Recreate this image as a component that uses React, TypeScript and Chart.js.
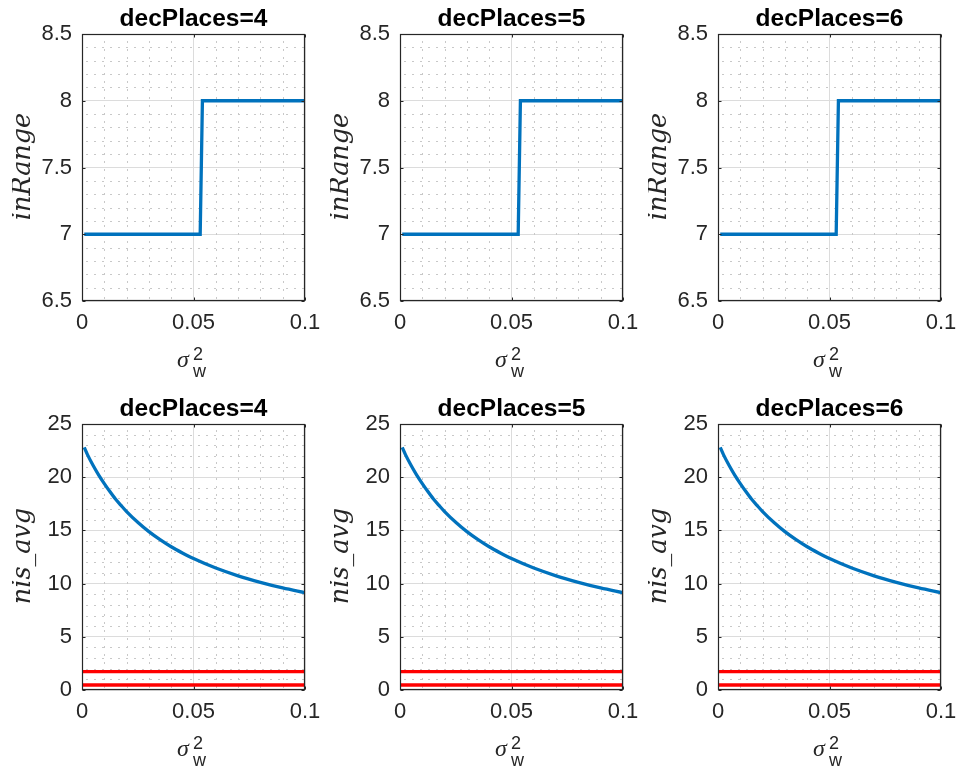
import React, { useEffect, useRef } from 'react';
import { Chart, registerables } from 'chart.js';

Chart.register(...registerables);

// ---------- data ----------
const decPlaces = [4, 5, 6];

const sigmaInRange = [0.001, 0.053, 0.054, 0.1];
const inRangeValues = [7, 7, 8, 8];

const sigmaNis = [
  0.001, 0.0025, 0.005, 0.0075, 0.01, 0.0125, 0.015, 0.0175, 0.02, 0.025, 0.03, 0.035, 0.04, 0.045, 0.05,
  0.06, 0.07, 0.08, 0.09, 0.1,
];
const nisAvgValues = [
  22.8, 22.1, 21.1, 20.2, 19.4, 18.65, 17.95, 17.35, 16.77, 15.76, 14.88, 14.13, 13.46, 12.88, 12.35,
  11.46, 10.73, 10.12, 9.59, 9.15,
];

const boundX = [0, 0.1];
const nisUpperBound = 1.72;
const nisLowerBound = 0.47;

const xTicks = [0, 0.05, 0.1];
const inRangeTicks = [6.5, 7, 7.5, 8, 8.5];
const nisTicks = [0, 5, 10, 15, 20, 25];

// ---------- styling ----------
const AXIS_COLOR = '#262626';
const GRID_COLOR = '#dcdcdc';
const MINOR_COLOR = '#c8c8c8';
const BLUE = '#0072BD';
const RED = '#FF0000';
const SANS = '"Liberation Sans", Arial, Helvetica, sans-serif';
const TICK_SIZE = 22;
const LINE_W = 3.3;

const Y_AXIS_W = 70;
const X_AXIS_H = 84;
const PAD_TOP = 34;
const PAD_RIGHT = 16;
const PLOT_W = 223;
const CANVAS_W = Y_AXIS_W + PLOT_W + PAD_RIGHT;

const fmt = (v: number) => String(Number(Number(v).toFixed(4)));

function minorValues(min: number, max: number, minor: number, major: number) {
  const out: number[] = [];
  const n = Math.round((max - min) / minor);
  const per = Math.round(major / minor);
  for (let i = 1; i < n; i++) {
    if (i % per !== 0) out.push(min + i * minor);
  }
  return out;
}

function makeDecorPlugin(title: string, yLabel: string, yMinor: number[], yMajor: number[]) {
  return {
    id: 'matlabDecor',
    beforeDatasetsDraw(chart: any) {
      const { ctx, chartArea: a, scales } = chart;
      ctx.save();
      ctx.strokeStyle = MINOR_COLOR;
      ctx.lineWidth = 1;
      ctx.setLineDash([2, 6]);
      for (const v of minorValues(0, 0.1, 0.01, 0.05)) {
        const x = Math.round(scales.x.getPixelForValue(v)) + 0.5;
        ctx.beginPath();
        ctx.moveTo(x, a.bottom - 2);
        ctx.lineTo(x, a.top);
        ctx.stroke();
      }
      for (const v of yMinor) {
        const y = Math.round(scales.y.getPixelForValue(v)) + 0.5;
        ctx.beginPath();
        ctx.moveTo(a.left + 4, y);
        ctx.lineTo(a.right, y);
        ctx.stroke();
      }
      ctx.restore();
    },
    afterDraw(chart: any) {
      const { ctx, chartArea: a, scales } = chart;
      ctx.save();
      // box
      ctx.strokeStyle = AXIS_COLOR;
      ctx.lineWidth = 1.2;
      const L = Math.round(a.left) + 0.5;
      const R = Math.round(a.right) - 0.5;
      const T = Math.round(a.top) + 0.5;
      const B = Math.round(a.bottom) - 0.5;
      ctx.strokeRect(L, T, R - L, B - T);
      // inward ticks
      const tl = 3;
      ctx.lineWidth = 1;
      ctx.beginPath();
      for (const v of xTicks) {
        const x = Math.round(scales.x.getPixelForValue(v)) + 0.5;
        ctx.moveTo(x, B);
        ctx.lineTo(x, B - tl);
        ctx.moveTo(x, T);
        ctx.lineTo(x, T + tl);
      }
      for (const v of yMajor) {
        const y = Math.round(scales.y.getPixelForValue(v)) + 0.5;
        ctx.moveTo(L, y);
        ctx.lineTo(L + tl, y);
        ctx.moveTo(R, y);
        ctx.lineTo(R - tl, y);
      }
      ctx.stroke();

      const cx = (a.left + a.right) / 2;
      const cy = (a.top + a.bottom) / 2;

      // title
      ctx.fillStyle = '#000000';
      ctx.font = `bold 24.5px ${SANS}`;
      ctx.textAlign = 'center';
      ctx.textBaseline = 'alphabetic';
      ctx.fillText(title, cx, a.top - 8);

      // y label (LaTeX-like italic)
      ctx.fillStyle = AXIS_COLOR;
      ctx.font = 'italic 25.5px "DejaVu Serif", serif';
      ctx.translate(a.left - 52, cy - 1);
      ctx.rotate(-Math.PI / 2);
      ctx.textAlign = 'center';
      ctx.fillText(yLabel, 0, 0);
      ctx.setTransform(1, 0, 0, 1, 0, 0);

      // x label: sigma_w^2
      ctx.textAlign = 'left';
      ctx.font = 'italic 24px "Liberation Serif", serif';
      ctx.fillText('σ', cx - 16.5, a.bottom + 66);
      ctx.font = `18px ${SANS}`;
      ctx.fillText('2', cx - 0.5, a.bottom + 59);
      ctx.fillText('w', cx - 0.5, a.bottom + 76);
      ctx.restore();
    },
  };
}

function Panel({ row, col }: { row: number; col: number }) {
  const ref = useRef<HTMLCanvasElement | null>(null);
  const isTop = row === 0;
  const canvasH = isTop ? 385 : 384;
  const left = 12 + col * 318;
  const top = isTop ? 0 : 390;

  useEffect(() => {
    if (!ref.current) return;
    const title = `decPlaces=${decPlaces[col]}`;
    const yTicks = isTop ? inRangeTicks : nisTicks;
    const yMin = yTicks[0];
    const yMax = yTicks[yTicks.length - 1];
    const yMinor = isTop ? minorValues(yMin, yMax, 0.1, 0.5) : minorValues(yMin, yMax, 1, 5);

    const datasets: any[] = isTop
      ? [
          {
            data: sigmaInRange.map((x, i) => ({ x, y: inRangeValues[i] })),
            borderColor: BLUE,
            borderWidth: LINE_W,
            pointRadius: 0,
            tension: 0,
            fill: false,
          },
        ]
      : [
          {
            data: sigmaNis.map((x, i) => ({ x, y: nisAvgValues[i] })),
            borderColor: BLUE,
            borderWidth: LINE_W,
            pointRadius: 0,
            cubicInterpolationMode: 'monotone',
            fill: false,
          },
          {
            data: boundX.map((x) => ({ x, y: nisUpperBound })),
            borderColor: RED,
            borderWidth: LINE_W,
            pointRadius: 0,
            fill: false,
          },
          {
            data: boundX.map((x) => ({ x, y: nisLowerBound })),
            borderColor: RED,
            borderWidth: LINE_W,
            pointRadius: 0,
            fill: false,
          },
        ];

    const chart = new Chart(ref.current, {
      type: 'line',
      data: { datasets },
      options: {
        animation: false,
        responsive: false,
        events: [],
        layout: { padding: { top: PAD_TOP, right: PAD_RIGHT, left: 0, bottom: 0 } },
        plugins: {
          legend: { display: false },
          tooltip: { enabled: false },
          title: { display: false },
        },
        scales: {
          x: {
            type: 'linear',
            min: 0,
            max: 0.1,
            afterBuildTicks: (s: any) => {
              s.ticks = xTicks.map((value) => ({ value }));
            },
            afterFit: (s: any) => {
              s.height = X_AXIS_H;
              s.paddingLeft = 0;
              s.paddingRight = 0;
            },
            grid: { color: GRID_COLOR, drawTicks: false, lineWidth: 1 },
            border: { display: false },
            ticks: {
              color: AXIS_COLOR,
              font: { family: SANS, size: TICK_SIZE },
              padding: 9,
              maxRotation: 0,
              autoSkip: false,
              callback: (v: any) => fmt(v),
            },
          },
          y: {
            type: 'linear',
            min: yMin,
            max: yMax,
            afterBuildTicks: (s: any) => {
              s.ticks = yTicks.map((value) => ({ value }));
            },
            afterFit: (s: any) => {
              s.width = Y_AXIS_W;
              s.paddingTop = 0;
              s.paddingBottom = 0;
            },
            grid: { color: GRID_COLOR, drawTicks: false, lineWidth: 1 },
            border: { display: false },
            ticks: {
              color: AXIS_COLOR,
              font: { family: SANS, size: TICK_SIZE },
              padding: 10,
              autoSkip: false,
              callback: (v: any) => fmt(v),
            },
          },
        },
      } as any,
      plugins: [makeDecorPlugin(title, isTop ? 'inRange' : 'nis_avg', yMinor, yTicks)],
    });
    return () => chart.destroy();
  }, [row, col]);

  return (
    <canvas
      ref={ref}
      width={CANVAS_W}
      height={canvasH}
      style={{ position: 'absolute', left, top, width: CANVAS_W, height: canvasH }}
    />
  );
}

export default function App() {
  return (
    <div style={{ position: 'absolute', left: 0, top: 0, width: 958, height: 774, background: '#ffffff' }}>
      {[0, 1].map((row) => [0, 1, 2].map((col) => <Panel key={`${row}-${col}`} row={row} col={col} />))}
    </div>
  );
}
